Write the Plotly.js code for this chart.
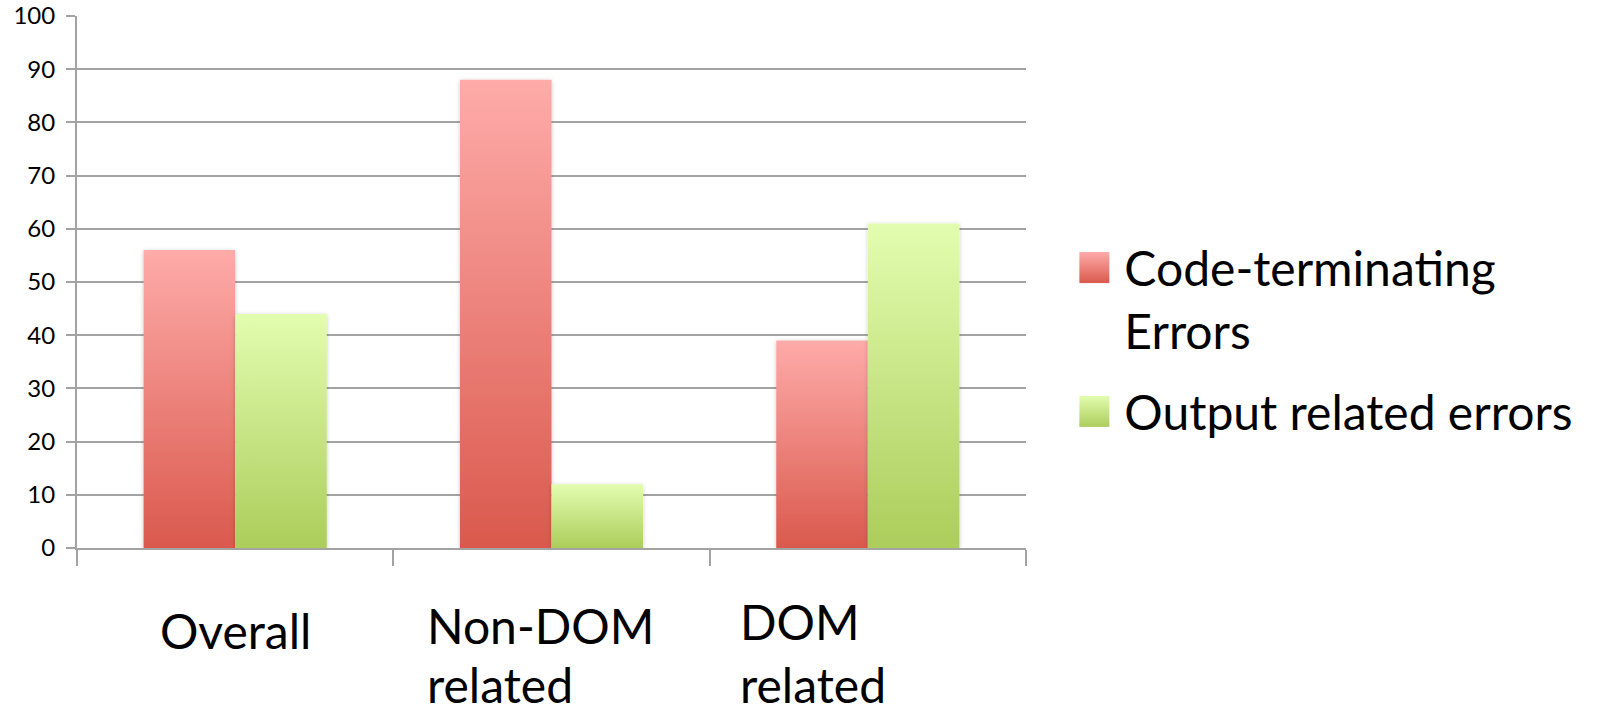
<!DOCTYPE html>
<html>
<head>
<meta charset="utf-8">
<script src="https://cdn.plot.ly/plotly-3.0.1.min.js"></script>
<style>
  html, body { margin: 0; padding: 0; background: #fff; }
  #chart { width: 1600px; height: 715px; }
</style>
</head>
<body>
<div id="chart"></div>
<script>
// Error categories and the share of each error type (%)
const categories = ['Overall', 'Non-DOM related', 'DOM related'];
const labelLine1 = ['Overall', 'Non-DOM', 'DOM'];
const labelLine2 = ['', 'related', 'related'];
const codeTerminating = [56, 88, 39];
const outputRelated = [44, 12, 61];
const seriesNames = ['Code-terminating<br>Errors', 'Output related errors'];

// Vertical gradients (top colour, bottom colour) for each series
const gradientStops = [
  ['#FEABA9', '#DA594D'],
  ['#E3FDB0', '#ACCD5B']
];

const gridGray = '#A3A3A3';
const font = 'Lato, "Open Sans", sans-serif';
const legendFontSize = 48;

const traces = [
  {
    type: 'bar', x: categories, y: codeTerminating, name: seriesNames[0],
    marker: { color: gradientStops[0][1], line: { width: 0 } },
    legendgroup: 'a'
  },
  {
    type: 'bar', x: categories, y: outputRelated, name: seriesNames[1],
    marker: { color: gradientStops[1][1], line: { width: 0 } },
    legendgroup: 'b'
  }
];

// Category captions under the axis, one annotation per text line
const firstLineShift = [-53, -48, -44];
const leftShift = [0, -126, -129];
const annotations = [];
categories.forEach((c, i) => {
  const base = {
    xref: 'x', yref: 'paper', x: c, y: 0,
    xanchor: i === 0 ? 'center' : 'left', xshift: leftShift[i],
    align: 'left', showarrow: false, borderpad: 0,
    font: { family: font, size: 48, color: '#000' }
  };
  annotations.push(Object.assign({}, base, {
    text: labelLine1[i], yanchor: 'top', yshift: firstLineShift[i]
  }));
  if (labelLine2[i]) {
    annotations.push(Object.assign({}, base, {
      text: labelLine2[i], yanchor: 'bottom', yshift: -166
    }));
  }
});

const layout = {
  width: 1600, height: 715,
  margin: { l: 77, r: 574, t: 16, b: 167, pad: 0 },
  paper_bgcolor: '#fff', plot_bgcolor: '#fff',
  barmode: 'group', bargap: 0.421, bargroupgap: 0,
  showlegend: true,
  legend: {
    x: 1.0615, xanchor: 'left', y: 0.598, yanchor: 'top',
    font: { family: font, size: legendFontSize, color: '#000' },
    traceorder: 'grouped', tracegroupgap: 16, valign: 'top',
    bgcolor: 'rgba(0,0,0,0)', borderwidth: 0
  },
  xaxis: {
    type: 'category', range: [-0.5, 2.5],
    showticklabels: false, showgrid: false,
    showline: true, linecolor: gridGray, linewidth: 2,
    ticks: 'outside', tickson: 'boundaries', ticklen: 16,
    tickcolor: gridGray, tickwidth: 2,
    zeroline: false
  },
  yaxis: {
    range: [0, 100], dtick: 10, tick0: 0,
    showgrid: true, gridcolor: gridGray, gridwidth: 2,
    showline: true, linecolor: gridGray, linewidth: 2,
    ticks: 'outside', ticklen: 9, tickcolor: gridGray, tickwidth: 2,
    ticklabelstandoff: 6,
    tickfont: { family: font, size: 24, color: '#000' },
    zeroline: false
  },
  annotations: annotations
};

const svgNS = 'http://www.w3.org/2000/svg';

function ensureDefs(svg) {
  if (svg.querySelector('#barGrad0')) return;
  const defs = document.createElementNS(svgNS, 'defs');
  gradientStops.forEach((stops, i) => {
    const g = document.createElementNS(svgNS, 'linearGradient');
    g.setAttribute('id', 'barGrad' + i);
    g.setAttribute('x1', '0'); g.setAttribute('y1', '0');
    g.setAttribute('x2', '0'); g.setAttribute('y2', '1');
    stops.forEach((c, k) => {
      const s = document.createElementNS(svgNS, 'stop');
      s.setAttribute('offset', k === 0 ? '0' : '1');
      s.setAttribute('stop-color', c);
      g.appendChild(s);
    });
    defs.appendChild(g);
  });
  const f = document.createElementNS(svgNS, 'filter');
  f.setAttribute('id', 'barShadow');
  f.setAttribute('x', '-20%'); f.setAttribute('y', '-5%');
  f.setAttribute('width', '140%'); f.setAttribute('height', '110%');
  const ds = document.createElementNS(svgNS, 'feDropShadow');
  ds.setAttribute('dx', '0'); ds.setAttribute('dy', '1');
  ds.setAttribute('stdDeviation', '2');
  ds.setAttribute('flood-color', '#000');
  ds.setAttribute('flood-opacity', '0.22');
  f.appendChild(ds);
  defs.appendChild(f);
  svg.insertBefore(defs, svg.firstChild);
}

function styleChart(gd) {
  const svg = gd.querySelector('svg.main-svg');
  if (!svg) return;
  ensureDefs(svg);
  gd.querySelectorAll('.barlayer .trace.bars').forEach((tr, i) => {
    tr.querySelectorAll('path').forEach(p => {
      p.style.fill = 'url(#barGrad' + i + ')';
      p.style.filter = 'url(#barShadow)';
    });
  });

  // Square legend swatches sized to the large legend text
  let swatchLayer = svg.querySelector('g.legend-swatches');
  if (swatchLayer) swatchLayer.remove();
  swatchLayer = document.createElementNS(svgNS, 'g');
  swatchLayer.setAttribute('class', 'legend-swatches');
  svg.appendChild(swatchLayer);
  const svgBox = svg.getBoundingClientRect();
  gd.querySelectorAll('.legend .traces').forEach((tr, i) => {
    const pts = tr.querySelector('.legendpoints');
    if (pts) pts.style.display = 'none';
    const text = tr.querySelector('text.legendtext');
    if (!text) return;
    const firstLine = text.querySelector('tspan.line') || text;
    const box = firstLine.getBoundingClientRect();
    const textBox = text.getBoundingClientRect();
    const baseline = box.bottom - svgBox.top - 0.213 * legendFontSize;
    const left = textBox.left - svgBox.left;
    const r = document.createElementNS(svgNS, 'rect');
    r.setAttribute('x', left - 45);
    r.setAttribute('y', baseline - 34);
    r.setAttribute('width', 30);
    r.setAttribute('height', 31);
    r.setAttribute('fill', 'url(#barGrad' + i + ')');
    swatchLayer.appendChild(r);
  });
}

const gd = document.getElementById('chart');
Plotly.newPlot(gd, traces, layout, { staticPlot: true, displayModeBar: false })
  .then(() => {
    styleChart(gd);
    gd.on('plotly_afterplot', () => styleChart(gd));
  });
</script>
</body>
</html>
